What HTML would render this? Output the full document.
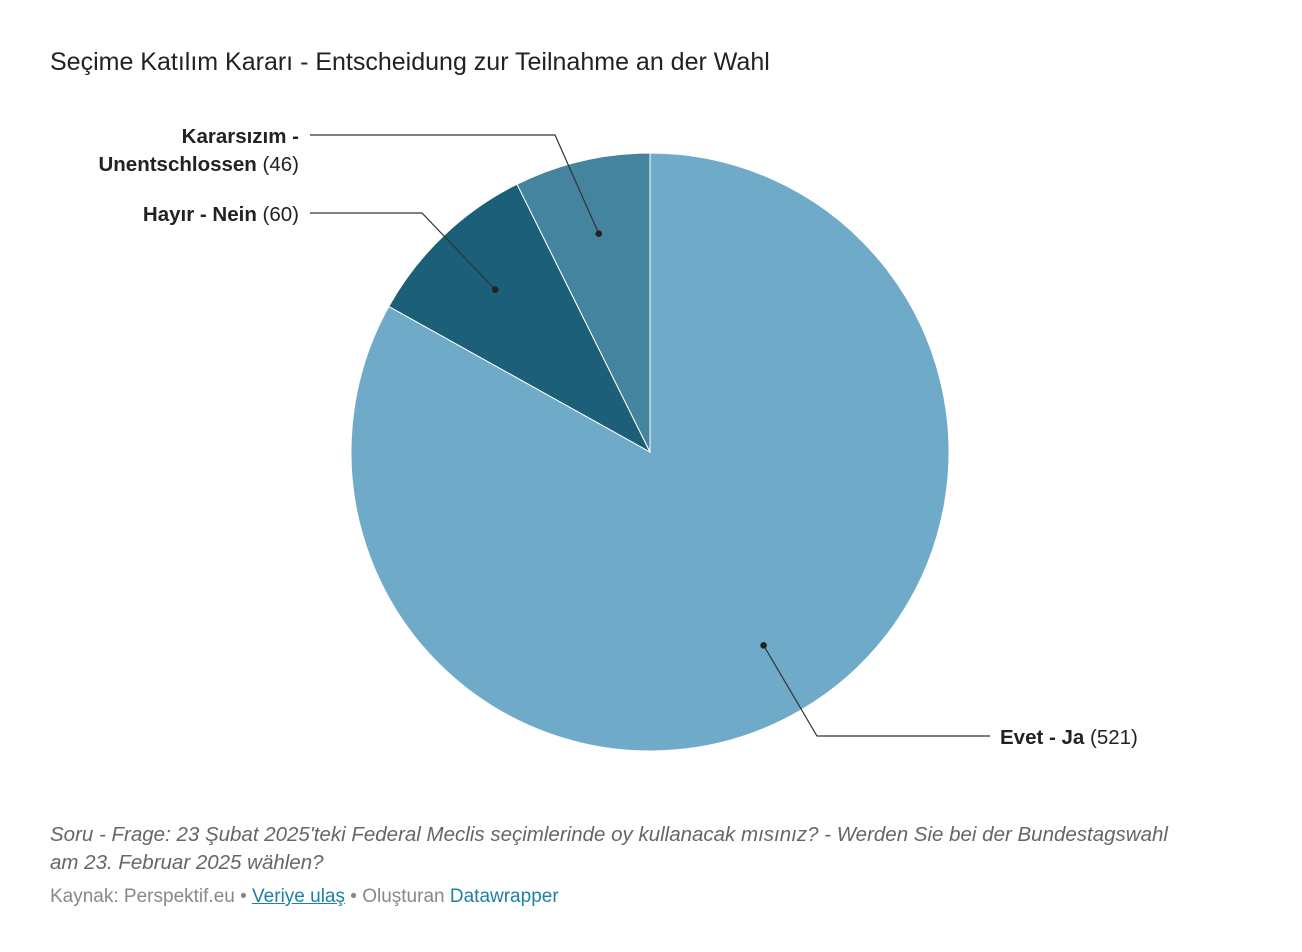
<!DOCTYPE html>
<html><head><meta charset="utf-8">
<style>
body{margin:0;width:1302px;height:952px;background:#fff;font-family:"Liberation Sans",Roboto,sans-serif;position:relative;overflow:hidden}
#title{position:absolute;left:50px;top:48px;font-size:25px;color:#222}
#note{position:absolute;left:50px;top:821px;font-size:20.5px;font-style:italic;color:#666;line-height:28px;width:1150px}
#src{position:absolute;left:50px;top:886px;font-size:19px;color:#888}
#src a{color:#1d81a2;text-decoration:none}
</style></head><body>
<div id="title">Seçime Katılım Kararı - Entscheidung zur Teilnahme an der Wahl</div>
<svg id="chart" width="1302" height="952" style="position:absolute;left:0;top:0"></svg>
<div id="note">Soru - Frage: 23 Şubat 2025'teki Federal Meclis seçimlerinde oy kullanacak mısınız? - Werden Sie bei der Bundestagswahl am 23. Februar 2025 wählen?</div>
<div id="src">Kaynak: Perspektif.eu • <a style="text-decoration:underline">Veriye ulaş</a> • Oluşturan <a>Datawrapper</a></div>
<script>
const labels=["Evet - Ja","Hayır - Nein","Kararsızım - Unentschlossen"];
const values=[521,60,46];
const colors=["#6fabc9","#1b5f78","#44849f"];
const svg=document.getElementById('chart');
const NS="http://www.w3.org/2000/svg";
const cx=650,cy=452,r=299;
const total=values.reduce((a,b)=>a+b,0);
function pt(a,rad){return [cx+rad*Math.sin(a),cy-rad*Math.cos(a)];}
let a0=0;
const mids=[];
values.forEach((v,i)=>{
  const a1=a0+v/total*2*Math.PI;
  const p0=pt(a0,r),p1=pt(a1,r);
  const large=(a1-a0)>Math.PI?1:0;
  const p=document.createElementNS(NS,'path');
  p.setAttribute('d',`M${cx},${cy}L${p0[0]},${p0[1]}A${r},${r} 0 ${large} 1 ${p1[0]},${p1[1]}Z`);
  p.setAttribute('fill',colors[i]);p.setAttribute('stroke','#fff');p.setAttribute('stroke-width','1');
  
  
  svg.appendChild(p);
  mids.push((a0+a1)/2);
  a0=a1;
});
function add(tag,attrs,name){const e=document.createElementNS(NS,tag);for(const k in attrs)e.setAttribute(k,attrs[k]);
  
  
  svg.appendChild(e);return e;}
// label anchors: [elbow, end, text lines]
const lab=[
 {elbow:[817,736],end:[990,736],anchor:'start',tx:1000,ty:744},
 {elbow:[422,213],end:[310,213],anchor:'end',tx:299,ty:221},
 {elbow:[555,135],end:[310,135],anchor:'end',tx:299,ty:143}
];
values.forEach((v,i)=>{
  const d=pt(mids[i],r*0.75),L=lab[i];
  add('polyline',{points:`${d[0]},${d[1]} ${L.elbow[0]},${L.elbow[1]} ${L.end[0]},${L.end[1]}`,fill:'none',stroke:'#333','stroke-width':1.2},'leader-line-'+i);
  add('circle',{cx:d[0],cy:d[1],r:3.3,fill:'#222'},'leader-dot-'+i);
  const t=add('text',{x:L.tx,y:L.ty,'text-anchor':L.anchor,'font-size':'20.5','fill':'#222','font-family':'Liberation Sans, sans-serif'},'slice-label-'+i);
  if(i===2){
    t.innerHTML=`<tspan font-weight="bold">Kararsızım -</tspan><tspan x="${L.tx}" dy="28" font-weight="bold">Unentschlossen</tspan><tspan> (${v})</tspan>`;
  } else {
    t.innerHTML=`<tspan font-weight="bold">${labels[i]}</tspan><tspan> (${v})</tspan>`;
  }
});
</script>
</body></html>
